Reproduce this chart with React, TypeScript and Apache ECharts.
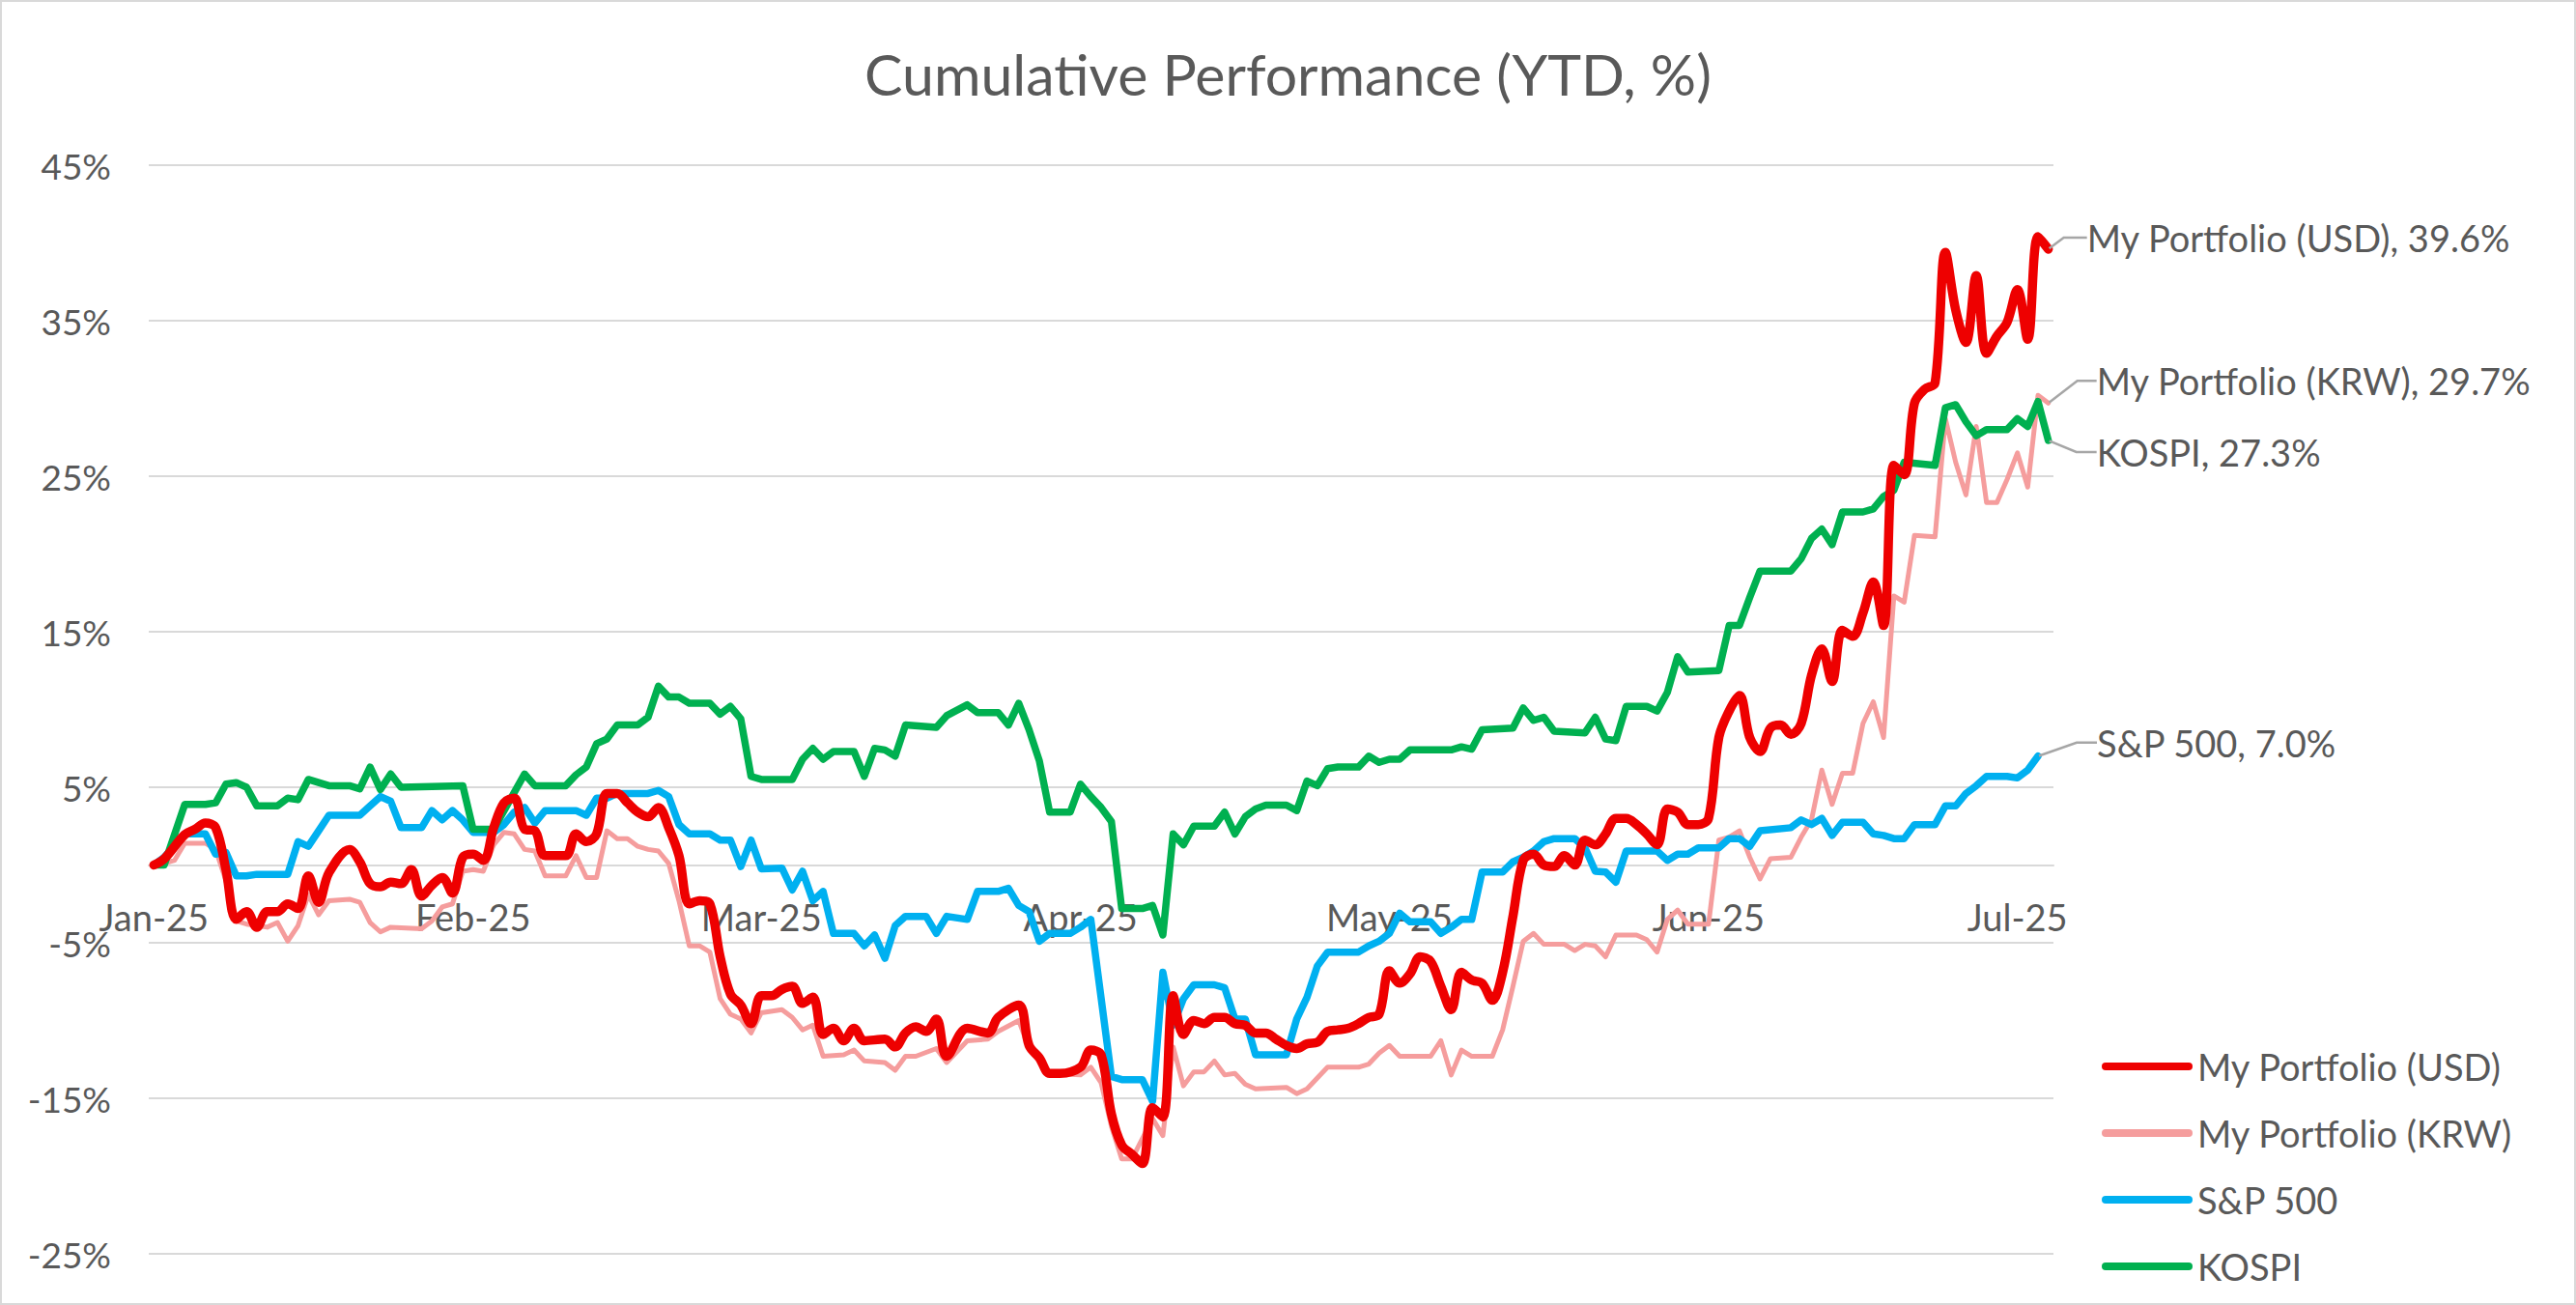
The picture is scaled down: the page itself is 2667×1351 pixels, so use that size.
import React, { useEffect, useRef } from "react";
import * as echarts from "echarts";

const TITLE = "Cumulative Performance (YTD, %)";
const SERIES_NAMES = ["My Portfolio (USD)", "My Portfolio (KRW)", "S&P 500", "KOSPI"];
const MONTHS = ["Jan", "Feb", "Mar", "Apr", "May", "Jun", "Jul", "Aug", "Sep", "Oct", "Nov", "Dec"];
const FIRST_DAY = { year: 2025, month: 0, day: 1 };
const DAY_COUNT = 185; // 1 Jan 2025 .. 4 Jul 2025
const Y_MIN = -25;
const Y_MAX = 45;
const Y_STEP = 10;

// [day offset from 1 Jan 2025, cumulative return %]
const usdPoints: [number, number][] = [
  [0, 0], [1, 0.4], [3, 1.96], [4, 2.3], [5, 2.7], [6, 2.4], [7, -0.3], [8, -3.5], [9, -3.0], [10, -4.0],
  [11, -3.0], [12, -3.0], [13, -2.5], [14, -2.8], [15, -0.7], [16, -2.4], [17, -0.5], [19, 1.0], [20, 0.2],
  [21, -1.2], [22, -1.4], [23, -1.1], [24, -1.2], [25, -0.3], [26, -2.0], [27, -1.3], [28, -0.8], [29, -1.8],
  [30, 0.5], [31, 0.7], [32, 0.3], [33, 2.4], [34, 4.0], [35, 4.3], [36, 2.3], [37, 2.2], [38, 0.6], [40, 0.6],
  [41, 2.0], [42, 1.5], [43, 2.0], [44, 4.6], [45, 4.6], [46, 4.0], [47, 3.4], [48, 3.1], [49, 3.7], [50, 2.4],
  [51, 0.6], [52, -2.5], [53, -2.3], [54, -2.5], [55, -5.9], [56, -8.3], [57, -9.0], [58, -10.2], [59, -8.4],
  [60, -8.4], [61, -8.0], [62, -7.8], [63, -8.9], [64, -8.5], [65, -10.9], [66, -10.5], [67, -11.3], [68, -10.5],
  [69, -11.3], [71, -11.2], [72, -11.7], [73, -10.8], [74, -10.4], [75, -10.7], [76, -9.9], [77, -12.3],
  [79, -10.5], [81, -10.8], [82, -9.8], [84, -9.0], [85, -11.6], [86, -12.4], [87, -13.4], [88, -13.4],
  [90, -13.0], [91, -11.9], [92, -12.2], [93, -16.0], [94, -18.0], [95, -18.6], [96, -19.2], [97, -15.6],
  [98, -16.2], [99, -8.4], [100, -10.9], [101, -10.0], [102, -10.2], [103, -9.8], [104, -9.8], [105, -10.2],
  [106, -10.3], [107, -10.8], [108, -10.8], [109, -11.2], [110, -11.6], [111, -11.8], [112, -11.5], [113, -11.4],
  [114, -10.7], [115, -10.6], [116, -10.5], [117, -10.2], [118, -9.8], [119, -9.6], [120, -6.8], [121, -7.6],
  [122, -7.0], [123, -5.9], [124, -6.2], [125, -7.8], [126, -9.3], [127, -6.9], [128, -7.4], [129, -7.6],
  [130, -8.7], [131, -6.9], [132, -3.3], [133, 0.3], [134, 0.7], [135, 0.0], [136, -0.1], [137, 0.6], [138, 0.0],
  [139, 1.6], [140, 1.3], [141, 2.0], [142, 3.0], [143, 3.0], [144, 2.6], [145, 2.0], [146, 1.3], [147, 3.6],
  [148, 3.4], [149, 2.6], [150, 2.6], [151, 3.0], [152, 8.2], [153, 9.9], [154, 10.9], [155, 8.2], [156, 7.3],
  [157, 8.8], [158, 9.0], [159, 8.4], [160, 9.1], [161, 12.2], [162, 13.9], [163, 11.8], [164, 15.1], [165, 14.7],
  [166, 16.2], [167, 18.2], [168, 15.4], [169, 25.7], [170, 25.1], [171, 29.7], [172, 30.6], [173, 31.0],
  [174, 39.4], [175, 35.7], [176, 33.6], [177, 37.9], [178, 32.9], [179, 34.0], [180, 34.9], [181, 37.0],
  [182, 33.8], [183, 40.4], [184, 39.6],
];

const krwPoints: [number, number][] = [
  [0, 0], [1, 0.1], [2, 0.3], [3, 1.4], [5, 1.4], [6, 1.0], [7, -1.0], [8, -3.6], [9, -3.8], [11, -4.0],
  [12, -3.7], [13, -4.9], [14, -3.9], [15, -1.9], [16, -3.2], [17, -2.3], [19, -2.2], [20, -2.4], [21, -3.7],
  [22, -4.3], [23, -4.0], [26, -4.1], [27, -3.6], [28, -2.7], [29, -2.5], [30, -0.4], [31, -0.3], [32, -0.4],
  [33, 1.3], [34, 2.1], [35, 2.0], [36, 1.0], [37, 0.9], [38, -0.7], [40, -0.7], [41, 0.6], [42, -0.8],
  [43, -0.8], [44, 2.2], [45, 1.7], [46, 1.7], [47, 1.2], [48, 1.0], [49, 0.9], [50, 0.1], [51, -2.3],
  [52, -5.2], [53, -5.2], [54, -5.6], [55, -8.6], [56, -9.6], [57, -9.9], [58, -10.8], [59, -9.5], [61, -9.3],
  [62, -9.8], [63, -10.6], [64, -10.3], [65, -12.3], [67, -12.2], [68, -11.9], [69, -12.6], [71, -12.7],
  [72, -13.2], [73, -12.3], [74, -12.3], [76, -11.8], [77, -12.7], [79, -11.3], [81, -11.2], [82, -10.7],
  [84, -10.0], [85, -11.8], [87, -13.4], [90, -13.5], [91, -13.0], [92, -14.0], [93, -16.8], [94, -18.9],
  [95, -18.9], [97, -16.3], [98, -17.4], [99, -11.7], [100, -14.2], [101, -13.3], [102, -13.3], [103, -12.6],
  [104, -13.5], [105, -13.4], [106, -14.1], [107, -14.4], [110, -14.3], [111, -14.7], [112, -14.4], [113, -13.7],
  [114, -13.0], [117, -13.0], [118, -12.8], [119, -12.1], [120, -11.6], [121, -12.3], [124, -12.3], [125, -11.3],
  [126, -13.5], [127, -11.9], [128, -12.3], [130, -12.3], [131, -10.6], [132, -7.8], [133, -4.9], [134, -4.4],
  [135, -5.1], [137, -5.1], [138, -5.5], [139, -5.1], [140, -5.2], [141, -5.9], [142, -4.5], [144, -4.5],
  [145, -4.8], [146, -5.6], [147, -3.5], [148, -2.9], [149, -3.8], [151, -3.8], [152, 1.6], [153, 1.8],
  [154, 2.2], [155, 0.5], [156, -0.9], [157, 0.4], [159, 0.5], [160, 1.8], [161, 2.9], [162, 6.1], [163, 3.9],
  [164, 5.9], [165, 5.9], [166, 9.1], [167, 10.5], [168, 8.2], [169, 17.3], [170, 16.9], [171, 21.2],
  [173, 21.1], [174, 28.7], [175, 25.9], [176, 23.8], [177, 28.2], [178, 23.3], [179, 23.3], [180, 24.8],
  [181, 26.5], [182, 24.3], [183, 30.2], [184, 29.7],
];

const spxPoints: [number, number][] = [
  [0, 0], [1, 0.5], [3, 2.0], [5, 2.0], [6, 0.7], [7, 0.8], [8, -0.7], [9, -0.7], [10, -0.6], [13, -0.6],
  [14, 1.5], [15, 1.2], [16, 2.2], [17, 3.2], [20, 3.2], [21, 3.8], [22, 4.4], [23, 4.1], [24, 2.4], [26, 2.4],
  [27, 3.5], [28, 2.9], [29, 3.5], [30, 2.9], [31, 2.1], [33, 2.1], [34, 2.6], [35, 3.4], [36, 3.7], [37, 2.7],
  [38, 3.5], [41, 3.5], [42, 3.2], [43, 4.3], [44, 4.3], [45, 4.6], [48, 4.6], [49, 4.8], [50, 4.4], [51, 2.6],
  [52, 2.0], [54, 2.0], [55, 1.6], [56, 1.6], [57, -0.1], [58, 1.6], [59, -0.25], [61, -0.2], [62, -1.6],
  [63, -0.4], [64, -2.3], [65, -1.7], [66, -4.4], [68, -4.4], [69, -5.2], [70, -4.5], [71, -6.0], [72, -3.9],
  [73, -3.3], [75, -3.3], [76, -4.4], [77, -3.3], [79, -3.5], [80, -1.7], [82, -1.7], [83, -1.5], [84, -2.6],
  [85, -3.0], [86, -4.9], [87, -4.4], [89, -4.4], [90, -4.0], [91, -3.5], [93, -13.6], [94, -13.8], [96, -13.8],
  [97, -15.2], [98, -6.9], [99, -10.3], [100, -8.6], [101, -7.7], [103, -7.7], [104, -7.9], [105, -9.9],
  [106, -9.9], [107, -12.2], [110, -12.2], [111, -9.9], [112, -8.5], [113, -6.5], [114, -5.6], [117, -5.6],
  [118, -5.2], [119, -4.9], [120, -4.4], [121, -3.1], [122, -3.65], [124, -3.65], [125, -4.4], [126, -4.0],
  [127, -3.5], [128, -3.5], [129, -0.45], [131, -0.45], [132, 0.2], [133, 0.5], [134, 0.9], [135, 1.5],
  [136, 1.7], [138, 1.7], [139, 1.1], [140, -0.4], [141, -0.45], [142, -1.1], [143, 0.9], [146, 0.9],
  [147, 0.3], [148, 0.7], [149, 0.7], [150, 1.1], [152, 1.1], [153, 1.7], [154, 1.7], [155, 1.2], [156, 2.2],
  [159, 2.4], [160, 2.9], [161, 2.6], [162, 3.0], [163, 1.9], [164, 2.75], [166, 2.75], [167, 2.0], [168, 1.9],
  [169, 1.7], [170, 1.7], [171, 2.6], [173, 2.6], [174, 3.8], [175, 3.8], [176, 4.6], [177, 5.1], [178, 5.7],
  [180, 5.7], [181, 5.6], [182, 6.1], [183, 7.0],
];

const kospiPoints: [number, number][] = [
  [0, 0], [1, 0], [3, 3.9], [5, 3.9], [6, 4.0], [7, 5.2], [8, 5.3], [9, 5.0], [10, 3.8], [12, 3.8], [13, 4.3],
  [14, 4.2], [15, 5.5], [17, 5.1], [19, 5.1], [20, 4.9], [21, 6.3], [22, 4.85], [23, 5.85], [24, 5.0], [30, 5.1],
  [31, 2.3], [33, 2.3], [36, 5.85], [37, 5.1], [40, 5.1], [41, 5.8], [42, 6.3], [43, 7.8], [44, 8.1], [45, 9.0],
  [47, 9.0], [48, 9.5], [49, 11.5], [50, 10.8], [51, 10.8], [52, 10.4], [54, 10.4], [55, 9.7], [56, 10.2],
  [57, 9.4], [58, 5.7], [59, 5.5], [62, 5.5], [63, 6.8], [64, 7.5], [65, 6.8], [66, 7.3], [68, 7.3], [69, 5.7],
  [70, 7.5], [71, 7.4], [72, 7.0], [73, 9.0], [76, 8.85], [77, 9.6], [79, 10.3], [80, 9.8], [82, 9.8], [83, 9.0],
  [84, 10.4], [85, 8.7], [86, 6.7], [87, 3.4], [89, 3.4], [90, 5.2], [91, 4.4], [92, 3.7], [93, 2.8], [94, -2.8],
  [96, -2.8], [97, -2.6], [98, -4.5], [99, 2.0], [100, 1.3], [101, 2.5], [103, 2.5], [104, 3.4], [105, 2.0],
  [106, 3.1], [107, 3.6], [108, 3.85], [110, 3.85], [111, 3.5], [112, 5.4], [113, 5.1], [114, 6.2], [115, 6.3],
  [117, 6.3], [118, 7.0], [119, 6.6], [120, 6.8], [121, 6.8], [122, 7.4], [126, 7.4], [127, 7.6], [128, 7.45],
  [129, 8.7], [132, 8.8], [133, 10.1], [134, 9.3], [135, 9.5], [136, 8.6], [139, 8.5], [140, 9.5], [141, 8.1],
  [142, 8.0], [143, 10.2], [145, 10.2], [146, 9.9], [147, 11.1], [148, 13.4], [149, 12.4], [152, 12.5],
  [153, 15.4], [154, 15.4], [155, 17.2], [156, 18.9], [159, 18.9], [160, 19.7], [161, 21.0], [162, 21.6],
  [163, 20.6], [164, 22.7], [166, 22.7], [167, 22.9], [168, 23.7], [169, 24.1], [170, 25.9], [173, 25.7],
  [174, 29.4], [175, 29.6], [176, 28.5], [177, 27.6], [178, 28.0], [180, 28.0], [181, 28.7], [182, 28.2],
  [183, 29.8], [184, 27.3],
];

const FONT = "Lato, 'Open Sans', sans-serif";
const TEXT_COLOR = "#595959";
const GRID_COLOR = "#D9D9D9";

const CHART_W = 2667;
const CHART_H = 1351;
const GRID = { left: 154, right: 541, top: 171, bottom: 53 };

function buildCategories(): string[] {
  const out: string[] = [];
  for (let i = 0; i < DAY_COUNT; i++) {
    const d = new Date(Date.UTC(FIRST_DAY.year, FIRST_DAY.month, FIRST_DAY.day + i));
    out.push(d.toISOString().slice(0, 10));
  }
  return out;
}

type SeriesCfg = {
  name: string;
  points: [number, number][];
  color: string;
  width: number;
  z: number;
  smooth: number | boolean;
  labelDx: number;
  labelDy: number;
  leader: number;
};

export default function App() {
  const ref = useRef<HTMLDivElement>(null);

  useEffect(() => {
    document.body.style.margin = "0";
    if (!ref.current) return;
    const chart = echarts.init(ref.current, undefined, { renderer: "svg" });
    const categories = buildCategories();

    // the category axis sits on the 0% line: shift it up from the grid's bottom edge
    const plotH = CHART_H - GRID.top - GRID.bottom;
    const zeroOffset = (plotH * (0 - Y_MIN)) / (Y_MAX - Y_MIN);

    const cfgs: SeriesCfg[] = [
      { name: SERIES_NAMES[0], points: usdPoints, color: "#EE0000", width: 9.5, z: 6, smooth: 0.35, labelDx: 24, labelDy: -12, leader: 24 },
      { name: SERIES_NAMES[1], points: krwPoints, color: "#F59D9D", width: 5, z: 3, smooth: false, labelDx: 34, labelDy: -23, leader: 20 },
      { name: SERIES_NAMES[2], points: spxPoints, color: "#00B0F0", width: 7.5, z: 4, smooth: false, labelDx: 45, labelDy: -14, leader: 21 },
      { name: SERIES_NAMES[3], points: kospiPoints, color: "#00B050", width: 7.5, z: 5, smooth: false, labelDx: 34, labelDy: 12, leader: 21 },
    ];

    const series = cfgs.map((c) => {
      const last = c.points.length - 1;
      const data = c.points.map(([day, v], i) =>
        i === last
          ? {
              value: [day, v],
              symbolSize: 2,
              label: {
                show: true,
                position: "right",
                distance: 0,
                padding: [0, 0, 0, 15],
                formatter: `${c.name}, ${v.toFixed(1)}%`,
                color: TEXT_COLOR,
                fontSize: 38,
                fontFamily: FONT,
              },
            }
          : { value: [day, v] }
      );
      return {
        name: c.name,
        type: "line",
        data,
        z: c.z,
        smooth: c.smooth,
        showSymbol: true,
        showAllSymbol: true,
        symbol: "circle",
        symbolSize: 0,
        itemStyle: { color: c.color },
        lineStyle: { color: c.color, width: c.width, cap: "round", join: "round" },
        label: { show: false },
        labelLine: { show: true, length2: c.leader, lineStyle: { color: "#A6A6A6", width: 2.5 } },
        labelLayout: { dx: c.labelDx, dy: c.labelDy },
        emphasis: { disabled: true },
        silent: true,
      };
    });

    chart.setOption({
      animation: false,
      backgroundColor: "#FFFFFF",
      title: {
        text: TITLE,
        left: "center",
        top: 42,
        textStyle: { fontSize: 59, fontWeight: "normal", color: TEXT_COLOR, fontFamily: FONT },
      },
      grid: { ...GRID, containLabel: false, outerBoundsMode: "none" },
      legend: {
        orient: "vertical",
        left: 2171,
        top: 1079,
        itemWidth: 94,
        itemHeight: 8,
        itemGap: 29,
        icon: "path://M4,0 L90,0 A4,4 0 0 1 90,8 L4,8 A4,4 0 0 1 4,0 Z",
        textStyle: { fontSize: 38, color: TEXT_COLOR, fontFamily: FONT, lineHeight: 40 },
        data: SERIES_NAMES,
        selectedMode: false,
      },
      xAxis: {
        type: "category",
        data: categories,
        boundaryGap: true,
        position: "bottom",
        offset: -zeroOffset,
        axisLine: { show: true, onZero: false, lineStyle: { color: GRID_COLOR, width: 2 } },
        axisTick: { show: false },
        splitLine: { show: false },
        axisLabel: {
          interval: (_idx: number, val: string) => val.slice(8, 10) === "01",
          formatter: (val: string) => `${MONTHS[Number(val.slice(5, 7)) - 1]}-${val.slice(2, 4)}`,
          margin: 34,
          fontSize: 38,
          color: TEXT_COLOR,
          fontFamily: FONT,
        },
      },
      yAxis: {
        type: "value",
        min: Y_MIN,
        max: Y_MAX,
        interval: Y_STEP,
        axisLine: { show: false },
        axisTick: { show: false },
        splitLine: { show: true, lineStyle: { color: GRID_COLOR, width: 2 } },
        axisLabel: {
          formatter: (v: number) => `${v}%`,
          margin: 39,
          fontSize: 37,
          color: TEXT_COLOR,
          fontFamily: FONT,
        },
      },
      graphic: [
        {
          type: "rect",
          shape: { x: 1, y: 1, width: CHART_W - 2, height: CHART_H - 2 },
          style: { fill: "none", stroke: GRID_COLOR, lineWidth: 2 },
          silent: true,
          z: 100,
        },
      ],
      series,
    });

    return () => chart.dispose();
  }, []);

  return <div ref={ref} style={{ width: CHART_W, height: CHART_H }} />;
}
